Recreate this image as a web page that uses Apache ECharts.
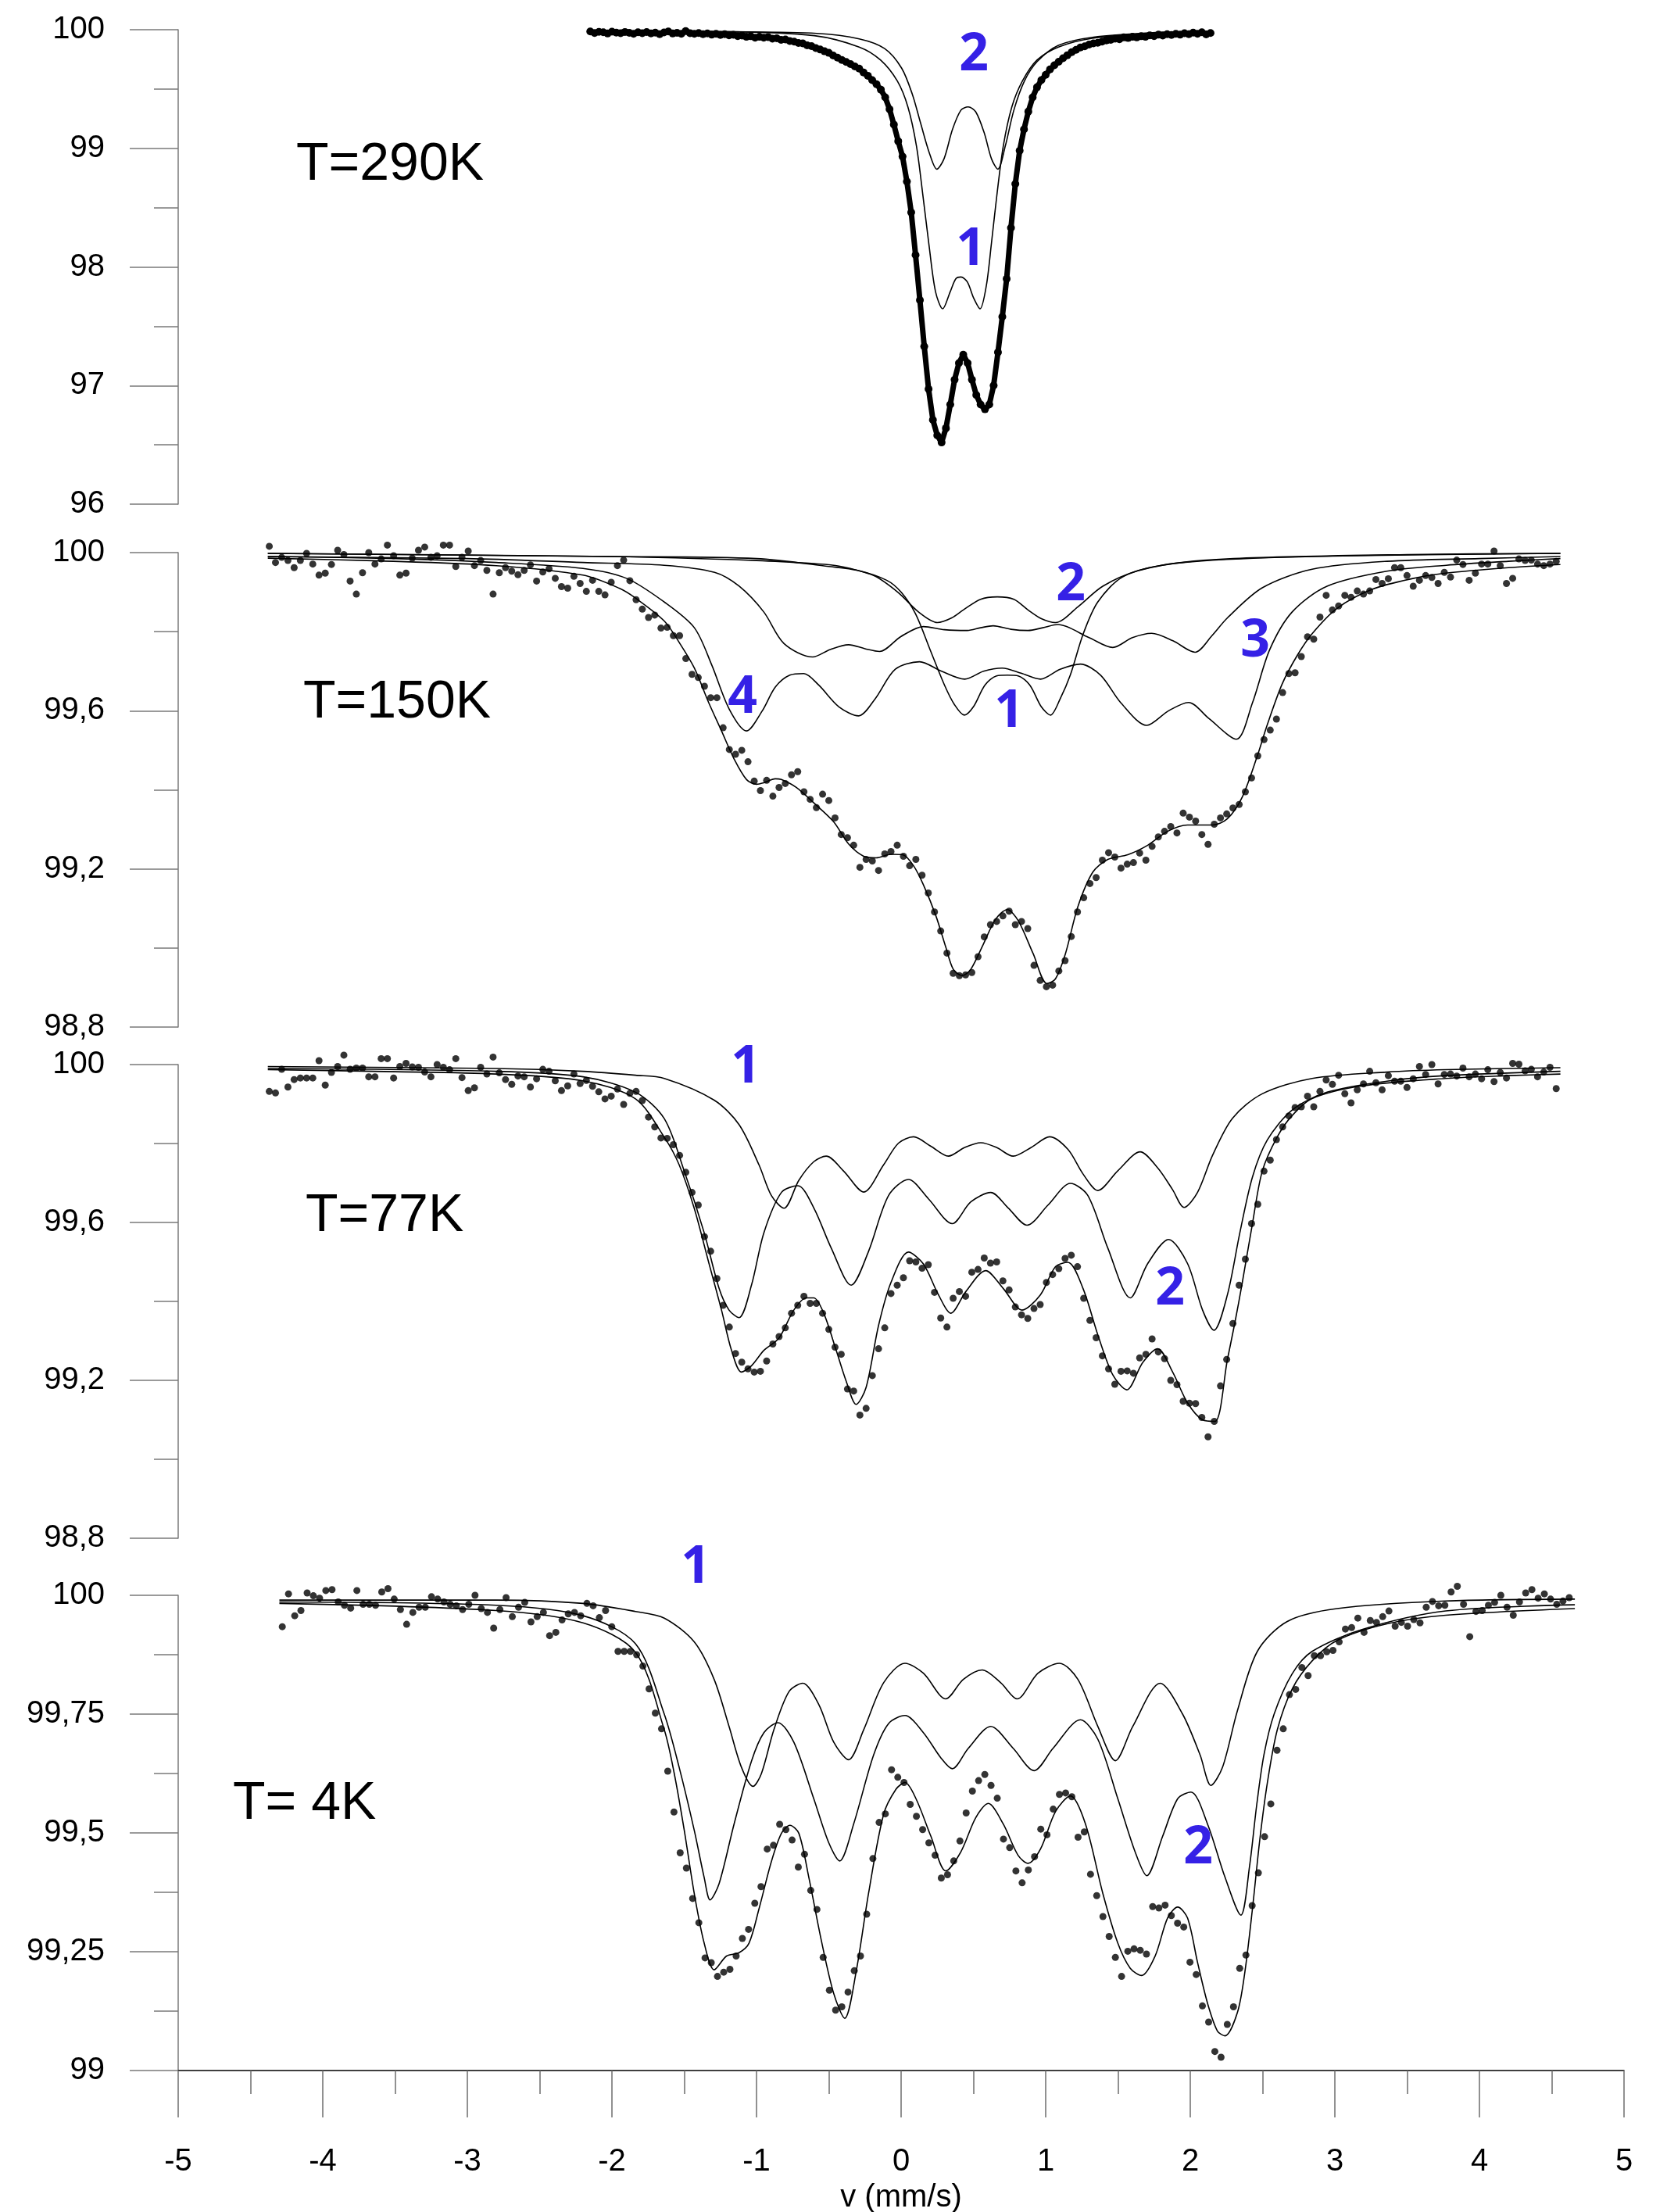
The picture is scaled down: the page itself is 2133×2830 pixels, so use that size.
<!DOCTYPE html>
<html>
<head>
<meta charset="utf-8">
<title>Mössbauer spectra</title>
<script src="https://cdn.jsdelivr.net/npm/echarts@6.0.0/dist/echarts.min.js"></script>
<style>
html, body { margin: 0; padding: 0; background: #fff; }
#chart { width: 2133px; height: 2830px; }
</style>
</head>
<body>
<div id="chart"></div>
<script>
// measured spectra: transmission (%) per channel, channels evenly spaced in velocity
const start290 = -2.15, step290 = 0.03;
const counts290 = [
  99.985,99.972,99.982,99.978,99.968,99.983,99.976,99.970,99.981,99.974,
  99.966,99.978,99.971,99.980,99.969,99.975,99.962,99.977,99.985,99.968,
  99.974,99.966,99.988,99.971,99.965,99.972,99.962,99.969,99.958,99.965,
  99.955,99.962,99.952,99.957,99.946,99.951,99.940,99.945,99.933,
  99.940,99.932,99.938,99.925,99.928,99.915,99.918,99.905,99.900,99.888,
  99.885,99.868,99.862,99.845,99.833,99.818,99.805,99.782,99.765,99.745,
  99.728,99.710,99.690,99.672,99.640,99.612,99.575,99.540,99.495,99.430,
  99.33,99.20,99.06,98.93,98.72,98.46,98.10,97.72,97.33,96.97,
  96.71,96.58,96.52,96.64,96.84,97.05,97.19,97.26,97.19,97.05,
  96.92,96.84,96.80,96.84,97.00,97.28,97.58,97.90,98.33,98.70,
  98.98,99.16,99.31,99.43,99.515,99.575,99.62,99.665,99.70,99.73,
  99.76,99.785,99.81,99.83,99.85,99.86,99.875,99.885,99.89,99.90,
  99.91,99.915,99.925,99.92,99.935,99.93,99.94,99.935,99.945,99.94,
  99.952,99.946,99.958,99.95,99.962,99.955,99.965,99.958,99.97,99.962,
  99.975,99.966,99.978,99.96,99.972
];

const start150 = -4.37, step150 = 0.043;
const counts150 = [
  100.016,99.975,99.988,99.980,99.962,99.980,99.998,99.971,99.943,99.948,
  99.970,100.006,99.995,99.928,99.895,99.949,100.000,99.971,99.984,100.019,
  99.992,99.943,99.948,99.986,100.006,100.014,99.988,99.992,100.019,100.019,
  99.965,99.988,100.004,99.967,99.980,99.955,99.895,99.949,99.962,99.953,
  99.944,99.955,99.969,99.928,99.951,99.959,99.935,99.914,99.910,99.940,
  99.922,99.902,99.930,99.902,99.893,99.925,99.967,99.981,99.929,99.881,
  99.857,99.836,99.842,99.809,
  99.811,99.790,99.790,99.732,99.692,99.684,99.662,99.633,99.633,99.557,
  99.502,99.490,99.500,99.471,99.422,99.398,99.424,99.384,99.406,99.416,
  99.438,99.446,99.395,99.376,99.355,99.389,99.373,99.329,99.287,99.279,
  99.260,99.204,99.224,99.220,99.196,99.238,99.244,99.260,99.232,99.208,
  99.224,99.184,99.139,99.091,99.043,98.987,98.936,98.930,98.932,98.938,
  98.978,99.028,99.059,99.067,99.081,99.093,99.059,99.067,99.049,98.956,
  98.918,98.902,98.906,98.942,98.968,99.029,99.091,99.127,99.163,99.178,
  99.222,99.241,99.230,99.202,99.212,99.216,99.240,99.222,99.257,99.281,
  99.295,99.307,99.291,99.341,99.331,99.321,99.287,99.262,99.313,99.329,
  99.339,99.354,99.363,99.395,99.430,99.486,99.527,99.551,99.579,99.646,
  99.694,99.696,99.737,99.787,99.781,99.837,99.892,99.855,99.865,99.892,
  99.887,99.903,99.895,99.903,99.932,99.922,99.934,99.962,99.962,99.942,
  99.915,99.930,99.942,99.937,99.922,99.950,
  99.938,99.981,99.970,99.930,99.948,99.971,99.971,100.004,99.967,99.922,
  99.935,99.984,99.980,99.981,99.971,99.967,99.971,99.978
];

const start77 = -4.37, step77 = 0.043;
const counts77 = [
  99.932,99.928,99.988,99.943,99.962,99.966,99.966,99.966,100.010,99.948,
  99.980,99.995,100.024,99.988,99.991,99.991,99.969,99.969,100.015,100.015,
  99.966,99.995,100.003,99.994,99.993,99.981,99.969,100.000,99.993,99.987,
  100.015,99.967,99.934,99.941,99.993,99.976,100.019,99.979,99.962,99.950,
  99.971,99.969,99.943,99.964,99.988,99.983,99.959,99.934,99.946,99.976,
  99.952,99.960,99.945,99.931,99.913,99.920,99.938,99.899,99.927,99.932,
  99.909,99.867,99.842,99.814,
  99.813,99.797,99.770,99.727,99.676,99.644,99.564,99.527,99.458,99.390,
  99.335,99.268,99.246,99.229,99.221,99.223,99.249,99.292,99.311,99.333,
  99.370,99.390,99.413,99.395,99.395,99.370,99.329,99.284,99.266,99.178,
  99.173,99.112,99.129,99.212,99.280,99.333,99.420,99.441,99.460,99.503,
  99.500,99.484,99.493,99.423,99.358,99.335,99.408,99.425,99.413,99.474,
  99.481,99.510,99.497,99.500,99.452,99.429,99.386,99.366,99.357,99.382,
  99.392,99.448,99.468,99.483,99.509,99.517,99.488,99.408,99.352,99.308,
  99.262,99.229,99.190,99.223,99.224,99.218,99.257,99.266,99.305,99.272,
  99.255,99.200,99.189,99.147,99.142,99.141,99.106,99.057,99.096,99.186,
  99.253,99.344,99.441,99.507,99.597,99.646,99.730,99.758,99.810,99.842,
  99.870,99.891,99.893,99.920,99.893,99.932,99.961,99.950,99.973,99.926,
  99.903,99.936,99.951,99.983,99.954,99.936,99.972,99.958,99.958,99.942,
  99.964,99.995,99.975,100.000,99.951,99.975,
  99.976,99.971,99.991,99.969,99.976,99.964,99.987,99.957,99.980,99.966,
  100.003,100.001,99.984,99.988,99.969,99.981,99.993,99.939
];

const start4 = -4.28, step4 = 0.043;
const counts4 = [
  99.934,100.003,99.957,99.968,100.005,99.999,99.994,100.010,100.012,99.986,
  99.979,99.973,100.010,99.981,99.981,99.979,100.007,100.014,99.992,99.970,
  99.939,99.964,99.975,99.975,99.997,99.992,99.986,99.981,99.978,99.970,
  99.981,100.000,99.972,99.964,99.931,99.970,99.995,99.955,99.975,99.985,
  99.944,99.955,99.964,99.915,99.922,99.948,99.961,99.964,99.957,99.983,
  99.978,99.953,99.968,99.934,99.882,99.882,99.882,99.875,99.851,99.803,
  99.752,
  99.719,99.630,99.544,99.458,99.426,99.362,99.311,99.237,99.227,99.198,
  99.207,99.213,99.241,99.278,99.297,99.352,99.387,99.466,99.474,99.518,
  99.507,99.485,99.428,99.455,99.379,99.339,99.238,99.169,99.127,99.134,
  99.165,99.210,99.241,99.329,99.446,99.522,99.540,99.633,99.617,99.606,
  99.560,99.535,99.507,99.479,99.453,99.405,99.412,99.441,99.483,99.542,
  99.588,99.610,99.623,99.600,99.573,99.487,99.469,99.420,99.395,99.422,
  99.450,99.508,99.496,99.550,99.581,99.584,99.576,99.491,99.502,99.413,
  99.368,99.324,99.282,99.238,99.198,99.251,99.256,99.253,99.245,99.345,
  99.342,99.348,99.326,99.310,99.302,99.228,99.202,99.136,99.102,99.040,
  99.028,99.097,99.134,99.215,99.243,99.347,99.416,99.492,99.561,99.674,
  99.719,99.791,99.802,99.848,99.831,99.873,99.873,99.881,99.884,99.902,
  99.929,99.932,99.952,99.922,99.947,99.943,99.955,99.967,99.935,99.943,
  99.935,99.949,99.942,99.975,99.987,99.978,
  99.979,100.007,100.019,99.981,99.913,99.966,99.968,99.979,99.985,100.000,
  99.975,99.958,99.986,100.005,100.012,99.994,100.003,99.992,99.981,99.988,
  99.995
];

// fitted envelopes and subspectra, [velocity, transmission]
const fit290 = [[-2.15,99.98],[-1.5,99.972],[-1.0,99.945],[-0.6,99.85],[-0.3,99.68],[-0.15,99.5],[-0.06,99.25],[0.02,98.88],[0.1,98.1],[0.18,97.08],[0.23,96.66],[0.28,96.52],[0.33,96.76],[0.39,97.16],[0.44,97.26],[0.5,97.02],[0.58,96.8],[0.64,97.0],[0.7,97.58],[0.76,98.33],[0.82,98.98],[0.9,99.4],[1.0,99.63],[1.2,99.82],[1.5,99.92],[2.14,99.975]];
const sub1_290 = [[-2.15,99.985],[-1.2,99.983],[-0.6,99.95],[-0.29,99.854],[-0.143,99.745],[-0.026,99.567],[0.047,99.349],[0.106,99.021],[0.15,98.611],[0.194,98.174],[0.238,97.792],[0.288,97.647],[0.34,97.792],[0.379,97.901],[0.414,97.915],[0.458,97.874],[0.502,97.737],[0.546,97.647],[0.59,97.846],[0.625,98.201],[0.663,98.611],[0.707,99.021],[0.766,99.349],[0.839,99.567],[0.941,99.745],[1.088,99.854],[1.322,99.928],[1.762,99.969],[2.142,99.983]];
const sub2_290 = [[-2.15,99.988],[-1.169,99.983],[-0.583,99.969],[-0.29,99.923],[-0.114,99.841],[0.003,99.677],[0.077,99.458],[0.135,99.212],[0.194,98.966],[0.247,98.824],[0.297,98.912],[0.355,99.158],[0.414,99.322],[0.464,99.349],[0.516,99.308],[0.575,99.13],[0.625,98.912],[0.669,98.824],[0.721,99.021],[0.78,99.322],[0.853,99.567],[0.941,99.731],[1.088,99.868],[1.322,99.936],[1.762,99.977],[2.142,99.985]];

const fit150 = [[-4.38,99.986],[-3.6,99.979],[-2.8,99.967],[-2.2,99.943],[-1.95,99.91],[-1.837,99.885],[-1.638,99.827],[-1.53,99.77],[-1.43,99.708],[-1.33,99.62],[-1.242,99.549],[-1.155,99.478],[-1.069,99.426],[-1.0,99.414],[-0.949,99.418],[-0.87,99.428],[-0.828,99.426],[-0.725,99.406],[-0.604,99.367],[-0.466,99.319],[-0.363,99.263],[-0.259,99.232],[-0.173,99.228],[-0.07,99.237],[0.01,99.236],[0.086,99.208],[0.154,99.16],[0.241,99.081],[0.31,99.001],[0.361,98.946],[0.423,98.93],[0.482,98.946],[0.568,99.009],[0.654,99.073],[0.734,99.097],[0.81,99.069],[0.913,98.986],[1.009,98.91],[1.068,98.922],[1.137,98.986],[1.223,99.105],[1.326,99.192],[1.43,99.224],[1.568,99.236],[1.706,99.26],[1.843,99.295],[1.981,99.311],[2.154,99.311],[2.257,99.327],[2.36,99.382],[2.464,99.486],[2.533,99.565],[2.636,99.668],[2.74,99.74],[2.843,99.795],[3.015,99.859],[3.257,99.907],[3.533,99.934],[3.767,99.948],[4.2,99.962],[4.56,99.97]];
const sub1_150 = [[-4.38,99.998],[-2,99.99],[-1,99.985],[-0.5,99.965],[-0.3,99.955],[-0.1,99.93],[0,99.9],[0.1,99.845],[0.2,99.755],[0.3,99.665],[0.37,99.615],[0.437,99.589],[0.5,99.61],[0.58,99.665],[0.66,99.688],[0.735,99.69],[0.81,99.688],[0.89,99.665],[0.97,99.61],[1.033,99.589],[1.1,99.63],[1.17,99.69],[1.26,99.795],[1.36,99.875],[1.53,99.938],[1.8,99.968],[2.3,99.985],[3.5,99.995],[4.56,99.998]];
const sub2_150 = [[-4.38,99.998],[-2,99.99],[-1,99.98],[-0.6,99.972],[-0.43,99.966],[-0.19,99.942],[-0.02,99.899],[0.12,99.85],[0.251,99.823],[0.35,99.835],[0.43,99.855],[0.55,99.882],[0.665,99.888],[0.78,99.882],[0.878,99.855],[0.97,99.833],[1.068,99.823],[1.223,99.863],[1.395,99.915],[1.637,99.954],[1.98,99.976],[2.84,99.99],[4.56,99.998]];
const sub3_150 = [[-4.38,99.99],[-3,99.985],[-2.2,99.975],[-1.638,99.968],[-1.29,99.95],[-1.12,99.915],[-0.95,99.85],[-0.81,99.77],[-0.611,99.736],[-0.49,99.755],[-0.363,99.767],[-0.25,99.757],[-0.149,99.75],[0,99.788],[0.154,99.813],[0.3,99.805],[0.458,99.803],[0.55,99.81],[0.637,99.815],[0.76,99.806],[0.878,99.803],[0.98,99.81],[1.085,99.818],[1.3,99.785],[1.464,99.76],[1.6,99.785],[1.733,99.796],[1.88,99.777],[2.033,99.748],[2.15,99.79],[2.257,99.835],[2.498,99.911],[2.843,99.958],[3.36,99.978],[4.0,99.985],[4.56,99.99]];
const sub4_150 = [[-4.38,99.99],[-3.5,99.985],[-2.8,99.975],[-2.2,99.96],[-1.9,99.935],[-1.638,99.875],[-1.43,99.81],[-1.31,99.716],[-1.19,99.605],[-1.069,99.549],[-0.96,99.6],[-0.87,99.66],[-0.77,99.69],[-0.673,99.694],[-0.57,99.665],[-0.43,99.61],[-0.294,99.587],[-0.18,99.63],[-0.04,99.705],[0.127,99.724],[0.28,99.7],[0.44,99.68],[0.57,99.7],[0.699,99.708],[0.83,99.695],[0.964,99.68],[1.1,99.705],[1.24,99.718],[1.38,99.69],[1.52,99.62],[1.699,99.563],[1.85,99.6],[1.988,99.621],[2.13,99.58],[2.319,99.528],[2.43,99.62],[2.55,99.755],[2.705,99.85],[2.946,99.915],[3.36,99.953],[3.77,99.968],[4.2,99.978],[4.56,99.985]];

const fit77 = [[-4.38,99.987],[-3.5,99.982],[-2.8,99.976],[-2.2,99.959],[-1.837,99.913],[-1.638,99.816],[-1.535,99.746],[-1.431,99.636],[-1.328,99.495],[-1.242,99.378],[-1.173,99.276],[-1.104,99.221],[-1.035,99.237],[-0.949,99.276],[-0.845,99.307],[-0.742,99.378],[-0.656,99.409],[-0.604,99.409],[-0.535,99.37],[-0.449,99.276],[-0.38,99.198],[-0.311,99.139],[-0.242,99.182],[-0.156,99.339],[-0.07,99.448],[0.051,99.525],[0.154,99.495],[0.258,99.417],[0.344,99.37],[0.448,99.425],[0.585,99.478],[0.706,99.433],[0.837,99.378],[0.964,99.417],[1.068,99.488],[1.154,99.499],[1.258,99.433],[1.361,99.315],[1.464,99.214],[1.561,99.176],[1.671,99.245],[1.775,99.28],[1.878,99.221],[1.981,99.143],[2.085,99.1],[2.171,99.096],[2.257,99.253],[2.309,99.347],[2.36,99.448],[2.43,99.597],[2.498,99.73],[2.602,99.817],[2.705,99.871],[2.843,99.914],[3.188,99.946],[3.767,99.965],[4.2,99.972],[4.56,99.976]];
const sub1_77 = [[-4.38,99.995],[-2.8,99.99],[-2.2,99.983],[-1.837,99.973],[-1.638,99.965],[-1.293,99.91],[-1.121,99.848],[-0.983,99.746],[-0.897,99.668],[-0.81,99.636],[-0.707,99.707],[-0.604,99.754],[-0.518,99.768],[-0.397,99.73],[-0.259,99.677],[-0.121,99.746],[-0.018,99.801],[0.086,99.817],[0.206,99.793],[0.327,99.768],[0.44,99.79],[0.551,99.802],[0.66,99.79],[0.775,99.768],[0.9,99.79],[1.027,99.817],[1.154,99.785],[1.258,99.723],[1.361,99.681],[1.499,99.731],[1.654,99.779],[1.775,99.738],[1.878,99.683],[1.957,99.638],[2.05,99.676],[2.154,99.77],[2.292,99.864],[2.498,99.926],[2.843,99.965],[3.36,99.981],[3.767,99.987],[4.56,99.992]];
const sub2_77 = [[-4.38,99.99],[-2.8,99.983],[-2.2,99.969],[-1.837,99.93],[-1.638,99.863],[-1.5,99.73],[-1.362,99.574],[-1.259,99.433],[-1.19,99.378],[-1.121,99.359],[-1.035,99.441],[-0.949,99.574],[-0.828,99.676],[-0.714,99.693],[-0.604,99.637],[-0.483,99.535],[-0.345,99.441],[-0.225,99.527],[-0.087,99.668],[0.051,99.709],[0.189,99.66],[0.354,99.597],[0.482,99.652],[0.62,99.676],[0.74,99.637],[0.871,99.593],[1.016,99.644],[1.171,99.699],[1.292,99.668],[1.43,99.535],[1.585,99.409],[1.706,99.496],[1.85,99.557],[1.981,99.496],[2.085,99.378],[2.164,99.327],[2.257,99.417],[2.343,99.574],[2.43,99.715],[2.533,99.809],[2.705,99.885],[2.946,99.93],[3.36,99.958],[3.767,99.972],[4.56,99.983]];

const fit4 = [[-4.3,99.983],[-2.8,99.968],[-2.2,99.942],[-1.837,99.88],[-1.638,99.717],[-1.569,99.625],[-1.5,99.506],[-1.431,99.373],[-1.362,99.268],[-1.293,99.212],[-1.207,99.241],[-1.121,99.248],[-1.052,99.268],[-0.983,99.34],[-0.897,99.44],[-0.828,99.499],[-0.769,99.516],[-0.707,99.499],[-0.638,99.406],[-0.552,99.274],[-0.466,99.162],[-0.39,99.11],[-0.311,99.208],[-0.225,99.373],[-0.121,99.539],[-0.035,99.592],[0.027,99.606],[0.103,99.572],[0.206,99.493],[0.309,99.42],[0.413,99.46],[0.516,99.532],[0.603,99.562],[0.706,99.519],[0.809,99.453],[0.878,99.436],[0.964,99.466],[1.068,99.545],[1.171,99.578],[1.275,99.519],[1.395,99.373],[1.499,99.268],[1.585,99.215],[1.664,99.2],[1.757,99.241],[1.843,99.321],[1.913,99.344],[1.981,99.321],[2.05,99.228],[2.119,99.142],[2.188,99.083],[2.24,99.073],[2.326,99.122],[2.378,99.208],[2.43,99.34],[2.481,99.486],[2.533,99.605],[2.602,99.717],[2.705,99.803],[2.843,99.862],[3.015,99.905],[3.36,99.94],[3.767,99.958],[4.66,99.972]];
const sub1_4 = [[-4.3,99.99],[-2.8,99.99],[-2.2,99.983],[-1.837,99.966],[-1.638,99.952],[-1.431,99.902],[-1.293,99.823],[-1.19,99.724],[-1.104,99.638],[-1.024,99.598],[-0.966,99.625],[-0.88,99.717],[-0.776,99.797],[-0.68,99.815],[-0.569,99.77],[-0.466,99.691],[-0.363,99.654],[-0.259,99.717],[-0.121,99.816],[0.027,99.857],[0.154,99.836],[0.309,99.782],[0.43,99.823],[0.561,99.843],[0.689,99.816],[0.802,99.782],[0.947,99.836],[1.095,99.857],[1.223,99.823],[1.361,99.724],[1.482,99.652],[1.602,99.724],[1.792,99.815],[1.947,99.75],[2.068,99.664],[2.143,99.6],[2.223,99.638],[2.326,99.757],[2.464,99.882],[2.671,99.945],[3.015,99.972],[3.767,99.988],[4.66,99.992]];
const sub2_4 = [[-4.3,99.986],[-2.8,99.979],[-2.2,99.957],[-1.837,99.898],[-1.638,99.75],[-1.535,99.638],[-1.431,99.506],[-1.362,99.406],[-1.321,99.359],[-1.259,99.393],[-1.155,99.519],[-1.035,99.651],[-0.949,99.711],[-0.852,99.732],[-0.742,99.691],[-0.604,99.572],[-0.5,99.479],[-0.425,99.441],[-0.328,99.519],[-0.19,99.664],[-0.087,99.73],[0.027,99.747],[0.154,99.711],[0.275,99.658],[0.354,99.635],[0.465,99.678],[0.62,99.724],[0.775,99.678],[0.92,99.631],[1.051,99.678],[1.24,99.738],[1.361,99.697],[1.499,99.572],[1.62,99.459],[1.699,99.41],[1.809,99.493],[1.913,99.572],[2.005,99.586],[2.119,99.519],[2.24,99.407],[2.35,99.327],[2.41,99.43],[2.46,99.56],[2.51,99.665],[2.58,99.75],[2.705,99.835],[2.843,99.882],[3.188,99.928],[3.767,99.967],[4.66,99.98]];

const temperatures = ['T=290K', 'T=150K', 'T=77K', 'T= 4K'];
const velocityTicks = [-5, 5, 1];

const FONT = '"Liberation Sans", Arial, sans-serif';
const BLUE = '#3521e6';

function channelPairs(start, step, values) {
  return values.map((y, i) => [Math.round((start + i * step) * 1000) / 1000, y]);
}

function commaLabel(v) {
  return String(Math.round(v * 100) / 100).replace('.', ',');
}

// one entry per stacked panel
const panels = [
  { top: 38, height: 607, min: 96, max: 100, interval: 1,
    data: channelPairs(start290, step290, counts290), curves: [fit290, sub1_290, sub2_290],
    title: { x: 379, y: 211 }, tags: [['2', 1246, 71], ['1', 1242, 320]] },
  { top: 707, height: 607, min: 98.8, max: 100, interval: 0.4,
    data: channelPairs(start150, step150, counts150), curves: [fit150, sub1_150, sub2_150, sub3_150, sub4_150],
    title: { x: 388, y: 899 }, tags: [['2', 1370, 749], ['3', 1606, 821], ['4', 950, 893], ['1', 1291, 911]] },
  { top: 1362, height: 606, min: 98.8, max: 100, interval: 0.4,
    data: channelPairs(start77, step77, counts77), curves: [fit77, sub1_77, sub2_77],
    title: { x: 391, y: 1556 }, tags: [['1', 954, 1366], ['2', 1497, 1650]] },
  { top: 2041, height: 608, min: 99, max: 100, interval: 0.25,
    data: channelPairs(start4, step4, counts4), curves: [fit4, sub1_4, sub2_4],
    title: { x: 298, y: 2308 }, tags: [['1', 890, 2006], ['2', 1533, 2365]] }
];

const chart = echarts.init(document.getElementById('chart'), null, { renderer: 'canvas' });

const grid = [], xAxis = [], yAxis = [], series = [], graphic = [];
panels.forEach((p, k) => {
  const last = k === panels.length - 1;
  grid.push({ left: 228, width: 1850, top: p.top, height: p.height, outerBoundsMode: 'none', containLabel: false });
  xAxis.push({
    gridIndex: k, type: 'value', min: velocityTicks[0], max: velocityTicks[1], interval: velocityTicks[2],
    show: last,
    axisLine: { show: true, onZero: false, lineStyle: { color: '#000', width: 1.5 } },
    axisTick: { show: true, length: 60, lineStyle: { color: '#6e6e6e', width: 1.5 } },
    minorTick: { show: true, splitNumber: 2, length: 30, lineStyle: { color: '#6e6e6e', width: 1.5 } },
    splitLine: { show: false }, minorSplitLine: { show: false },
    axisLabel: { margin: 97, fontSize: 40, fontFamily: FONT, color: '#000', showMinLabel: true, showMaxLabel: true },
    name: last ? 'v (mm/s)' : '', nameLocation: 'middle', nameGap: 143,
    nameTextStyle: { fontSize: 40, fontFamily: FONT, color: '#000' }
  });
  yAxis.push({
    gridIndex: k, type: 'value', min: p.min, max: p.max, interval: p.interval,
    axisLine: { show: true, onZero: false, lineStyle: { color: '#7a7a7a', width: 1.5 } },
    axisTick: { show: true, length: 62, lineStyle: { color: '#7a7a7a', width: 1.5 } },
    minorTick: { show: true, splitNumber: 2, length: 31, lineStyle: { color: '#7a7a7a', width: 1.5 } },
    splitLine: { show: false }, minorSplitLine: { show: false },
    axisLabel: { margin: 94, fontSize: 40, fontFamily: FONT, color: '#000', formatter: commaLabel,
      showMinLabel: true, showMaxLabel: true }
  });

  p.curves.forEach((c) => {
    series.push({
      type: 'line', xAxisIndex: k, yAxisIndex: k, data: c,
      smooth: 0.3, symbol: 'none', showSymbol: false,
      lineStyle: { color: '#000', width: 1.6 }, clip: false, silent: true, z: 2
    });
  });

  if (k === 0) {
    // room-temperature run has dense channels: they merge into a beaded band
    series.push({
      type: 'line', xAxisIndex: k, yAxisIndex: k, data: p.data,
      symbol: 'circle', symbolSize: 10, showSymbol: true, showAllSymbol: true,
      itemStyle: { color: '#000' }, lineStyle: { color: '#000', width: 7 },
      clip: false, silent: true, z: 3
    });
  } else {
    series.push({
      type: 'scatter', xAxisIndex: k, yAxisIndex: k, data: p.data,
      symbol: 'circle', symbolSize: 9, itemStyle: { color: '#000' },
      clip: false, silent: true, z: 3
    });
  }

  graphic.push({
    type: 'text', x: p.title.x, y: p.title.y, z: 10,
    style: { text: temperatures[k], fill: '#000', font: '68px ' + FONT,
      textAlign: 'left', align: 'left', textVerticalAlign: 'middle', verticalAlign: 'middle' }
  });
  p.tags.forEach(([t, x, y]) => {
    graphic.push({
      type: 'text', x: x, y: y, z: 10,
      style: { text: t, fill: BLUE, font: 'bold 66px "Open Sans", "Noto Sans", sans-serif',
        textAlign: 'center', align: 'center', textVerticalAlign: 'middle', verticalAlign: 'middle' }
    });
  });
});

chart.setOption({
  animation: false,
  backgroundColor: '#fff',
  grid: grid,
  xAxis: xAxis,
  yAxis: yAxis,
  series: series,
  graphic: graphic
});
</script>
</body>
</html>
